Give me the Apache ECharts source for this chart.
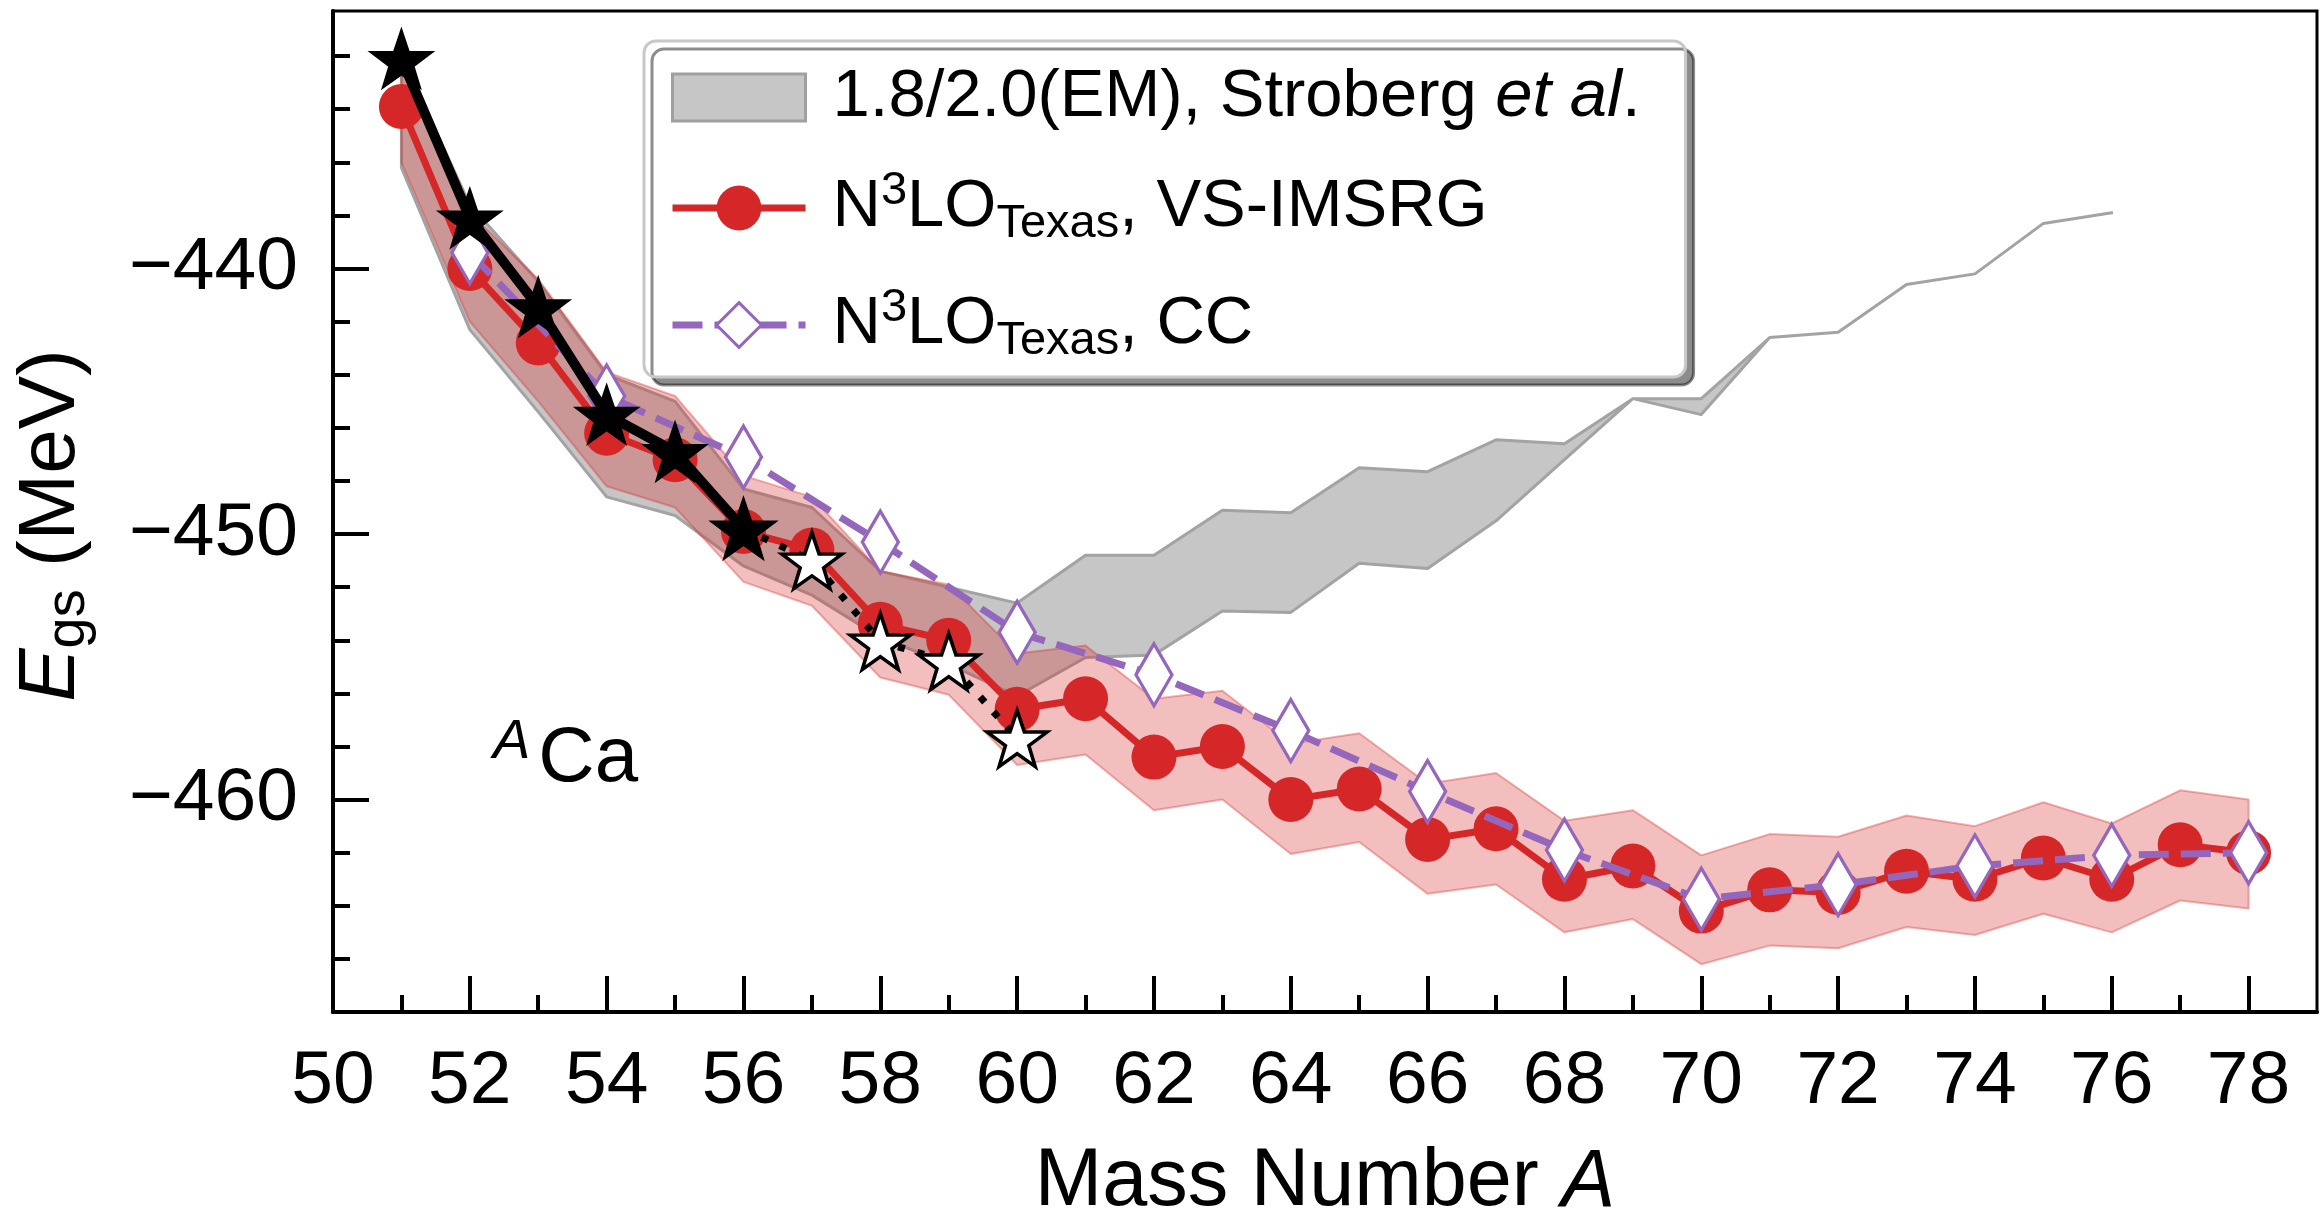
<!DOCTYPE html>
<html>
<head>
<meta charset="utf-8">
<script src="https://cdn.jsdelivr.net/npm/echarts@6/dist/echarts.min.js"></script>
<style>
  html, body { margin: 0; padding: 0; background: #ffffff; }
  #chart { width: 2320px; height: 1215px; }
</style>
</head>
<body>
<div id="chart"></div>
<script>
// ---------------- data ----------------
// N3LO_Texas, VS-IMSRG (red circles) with uncertainty band
const A_VS = [51, 52, 53, 54, 55, 56, 57, 58, 59, 60, 61, 62, 63, 64, 65, 66, 67, 68, 69, 70, 71, 72, 73, 74, 75, 76, 77, 78];
const E_VS = [-433.9, -440.0, -442.8, -446.2, -447.2, -449.9, -450.6, -453.4, -454.0, -456.6, -456.2, -458.4, -458.0, -460.0,
              -459.6, -461.5, -461.1, -463.0, -462.5, -464.2, -463.4, -463.5, -462.7, -463.0, -462.2, -463.0, -461.7, -462.0];
const VS_UPPER = [-431.8, -437.9, -440.4, -443.9, -444.8, -447.8, -448.6, -451.4, -451.9, -454.5, -454.2, -456.2, -455.9, -457.9,
                  -457.5, -459.4, -459.0, -460.8, -460.4, -462.1, -461.3, -461.4, -460.6, -461.0, -460.1, -460.9, -459.65, -460.0];
const VS_LOWER = [-436.0, -442.0, -445.0, -448.2, -449.0, -451.8, -452.7, -455.4, -456.05, -458.7, -458.3, -460.4, -460.0, -462.05,
                  -461.6, -463.55, -463.2, -465.0, -464.5, -466.2, -465.5, -465.6, -464.8, -465.1, -464.3, -465.0, -463.8, -464.1];

// 1.8/2.0(EM), Stroberg et al. (grey band)
const A_EM = [51, 52, 53, 54, 55, 56, 57, 58, 59, 60, 61, 62, 63, 64, 65, 66, 67, 68, 69, 70, 71, 72, 73, 74, 75, 76];
const EM_UPPER = [-432.0, -437.6, -440.5, -444.0, -445.0, -448.3, -449.0, -451.4, -452.0, -452.6, -450.8, -450.8, -449.1,
                  -449.2, -447.5, -447.65, -446.45, -446.6, -444.9, -444.9, -442.6, -442.4, -440.6, -440.2, -438.3, -437.9];
const EM_LOWER = [-436.2, -442.3, -445.4, -448.6, -449.3, -451.2, -452.3, -453.9, -454.9, -456.1, -454.65, -454.55, -452.9,
                  -452.95, -451.1, -451.3, -449.5, -447.2, -444.9, -445.5, -442.6, -442.4, -440.6, -440.2, -438.3, -437.9];

// N3LO_Texas, CC (open purple diamonds)
const A_CC = [52, 54, 56, 58, 60, 62, 64, 66, 68, 70, 72, 74, 76, 78];
const E_CC = [-439.4, -444.8, -447.1, -450.3, -453.7, -455.3, -457.4, -459.7, -461.9, -463.75, -463.2, -462.5, -462.1, -462.0];

// Experiment (filled stars) and extrapolations (open stars)
const A_EXP = [51, 52, 53, 54, 55, 56];
const E_EXP = [-432.1, -438.1, -441.45, -445.5, -446.9, -449.8];
const A_EXTRAP = [56, 57, 58, 59, 60];
const E_EXTRAP = [-449.8, -451.0, -454.05, -454.8, -457.7];

// axis ticks
const X_MAJOR = [50, 52, 54, 56, 58, 60, 62, 64, 66, 68, 70, 72, 74, 76, 78];
const X_MINOR = [51, 53, 55, 57, 59, 61, 63, 65, 67, 69, 71, 73, 75, 77];
const Y_MAJOR = [-460, -450, -440];
const Y_MINOR = [-466, -464, -462, -458, -456, -454, -452, -448, -446, -444, -442, -438, -436, -434, -432];

const NAME_EM = '1.8/2.0(EM), Stroberg et al.';
const NAME_VS = 'N3LO_Texas, VS-IMSRG';
const NAME_CC = 'N3LO_Texas, CC';

// ---------------- chart ----------------
const FONT = '"Liberation Sans", Arial, Helvetica, sans-serif';
const STAR = 'path://M50,0 L61.8,35.1 L98.9,35.1 L69.1,57.4 L79.4,91.5 L50,70.5 L20.6,91.5 L30.9,57.4 L1.1,35.1 L38.2,35.1 Z';
const THIN_DIAMOND = 'path://M16,0 L32,28 L16,56 L0,28 Z';
const RECT_ICON = 'path://M0,0 L133,0 L133,47 L0,47 Z';

const zip = (xs, ys) => xs.map((x, i) => [x, ys[i]]);
const minus = v => (v < 0 ? '\u2212' + Math.abs(v) : String(v));

// A band drawn as one polygon (upper edge, then lower edge reversed), placed through the axis scales.
function bandSeries(name, xs, up, lo, fill, stroke, lineWidth, z) {
  return {
    name: name, type: 'custom', coordinateSystem: 'cartesian2d', xAxisIndex: 0, yAxisIndex: 0,
    z: z, silent: true, clip: true,
    itemStyle: { color: fill },
    data: xs.map((x, i) => [x, up[i], lo[i]]),
    encode: { x: 0, y: [1, 2] },
    renderItem: function (params, api) {
      if (params.dataIndex !== 0) return null;
      const pts = [];
      for (let i = 0; i < xs.length; i++) pts.push(api.coord([xs[i], up[i]]));
      for (let i = xs.length - 1; i >= 0; i--) pts.push(api.coord([xs[i], lo[i]]));
      return {
        type: 'polygon',
        shape: { points: pts },
        style: { fill: fill, stroke: stroke, lineWidth: lineWidth, lineJoin: 'round' }
      };
    }
  };
}

const chart = echarts.init(document.getElementById('chart'), null, { renderer: 'canvas' });

const legendRich = {
  t:   { fontSize: 67, lineHeight: 80, fontFamily: FONT, color: '#000' },
  it:  { fontSize: 67, lineHeight: 80, fontFamily: FONT, color: '#000', fontStyle: 'italic' },
  sup: { fontSize: 47, lineHeight: 46, fontFamily: FONT, color: '#000', verticalAlign: 'top' },
  sub: { fontSize: 47, lineHeight: 46, fontFamily: FONT, color: '#000', verticalAlign: 'bottom' },
  sp:  { width: 22, lineHeight: 80 }
};

const option = {
  animation: false,
  backgroundColor: '#ffffff',
  grid: {
    left: 333, right: 3, top: 11, bottom: 203,
    containLabel: false, outerBoundsMode: 'none',
    show: true, borderColor: '#000', borderWidth: 3, backgroundColor: 'transparent'
  },
  xAxis: [
    {
      type: 'value', min: 50, max: 79, position: 'bottom',
      name: '{t|Mass Number }{i|A}', nameLocation: 'middle', nameGap: 126,
      nameTextStyle: {
        rich: {
          t: { fontSize: 81, lineHeight: 90, fontFamily: FONT, color: '#000' },
          i: { fontSize: 81, lineHeight: 90, fontFamily: FONT, color: '#000', fontStyle: 'italic' }
        }
      },
      axisLine: { show: true, lineStyle: { color: '#000', width: 4 } },
      axisTick: { show: true, inside: true, length: 36, lineStyle: { color: '#000', width: 4 }, customValues: X_MAJOR },
      axisLabel: { show: true, customValues: X_MAJOR, fontSize: 75, fontFamily: FONT, color: '#000', margin: 33 },
      splitLine: { show: false }
    },
    {
      type: 'value', min: 50, max: 79, position: 'bottom',
      axisLine: { show: false },
      axisTick: { show: true, inside: true, length: 17, lineStyle: { color: '#000', width: 4 }, customValues: X_MINOR },
      axisLabel: { show: false },
      splitLine: { show: false }
    }
  ],
  yAxis: [
    {
      type: 'value', min: -468, max: -430.3, position: 'left',
      name: '{e|E}{s|gs}{t| (MeV)}', nameLocation: 'middle', nameGap: 236, nameRotate: 90,
      nameTextStyle: {
        padding: [0, 28, 0, 0],
        rich: {
          e: { fontSize: 80, lineHeight: 90, fontFamily: FONT, color: '#000', fontStyle: 'italic' },
          s: { fontSize: 56, lineHeight: 56, fontFamily: FONT, color: '#000', verticalAlign: 'bottom' },
          t: { fontSize: 80, lineHeight: 90, fontFamily: FONT, color: '#000' }
        }
      },
      axisLine: { show: true, lineStyle: { color: '#000', width: 4 } },
      axisTick: { show: true, inside: true, length: 36, lineStyle: { color: '#000', width: 4 }, customValues: Y_MAJOR },
      axisLabel: { show: true, customValues: Y_MAJOR, fontSize: 75, fontFamily: FONT, color: '#000', margin: 35, formatter: minus },
      splitLine: { show: false }
    },
    {
      type: 'value', min: -468, max: -430.3, position: 'left',
      axisLine: { show: false },
      axisTick: { show: true, inside: true, length: 17, lineStyle: { color: '#000', width: 4 }, customValues: Y_MINOR },
      axisLabel: { show: false },
      splitLine: { show: false }
    }
  ],
  legend: {
    left: 644, top: 41, orient: 'vertical',
    selectedMode: false,
    itemWidth: 133, itemHeight: 56, itemGap: 37,
    padding: [23, 45, 12, 25],
    backgroundColor: '#ffffff',
    borderColor: '#c8c8c8', borderWidth: 3, borderRadius: 12,
    shadowColor: 'rgba(0,0,0,0.45)', shadowBlur: 0, shadowOffsetX: 8, shadowOffsetY: 8,
    textStyle: { fontSize: 67, fontFamily: FONT, color: '#000', rich: legendRich },
    formatter: function (name) {
      if (name === NAME_EM) return '{sp|}{t|1.8/2.0(EM), Stroberg }{it|et al}{t|.}';
      if (name === NAME_VS) return '{sp|}{t|N}{sup|3}{t|LO}{sub|Texas}{t|, VS-IMSRG}';
      if (name === NAME_CC) return '{sp|}{t|N}{sup|3}{t|LO}{sub|Texas}{t|, CC}';
      return name;
    },
    data: [
      { name: NAME_EM, icon: RECT_ICON, itemStyle: { color: '#c6c6c6', borderColor: '#a0a0a0', borderWidth: 3 } },
      { name: NAME_VS, itemStyle: { color: '#d62728' }, lineStyle: { color: '#d62728', width: 7, type: 'solid' } },
      { name: NAME_CC, itemStyle: { color: '#ffffff', borderColor: '#9467bd', borderWidth: 3 }, lineStyle: { color: '#9467bd', width: 7, type: [30, 12] } }
    ]
  },
  graphic: [
    {
      type: 'text', left: 493, top: 714, silent: true,
      style: {
        text: '{a|A}{c|Ca}',
        rich: {
          a: { fontSize: 56, lineHeight: 40, fontFamily: FONT, fill: '#000', fontStyle: 'italic', verticalAlign: 'top', padding: [0, 8, 0, 0] },
          c: { fontSize: 78, lineHeight: 90, fontFamily: FONT, fill: '#000' }
        }
      }
    }
  ],
  series: [
    bandSeries(NAME_EM, A_EM, EM_UPPER, EM_LOWER, '#c6c6c6', '#a3a3a3', 3, 1),
    bandSeries('vsBand', A_VS, VS_UPPER, VS_LOWER, 'rgba(214,39,40,0.3)', 'rgba(214,39,40,0.35)', 2, 2),
    {
      name: NAME_VS, type: 'line', xAxisIndex: 0, yAxisIndex: 0, z: 3,
      data: zip(A_VS, E_VS),
      symbol: 'circle', symbolSize: 45, silent: true,
      itemStyle: { color: '#d62728' },
      lineStyle: { color: '#d62728', width: 7 }
    },
    {
      name: NAME_CC, type: 'line', xAxisIndex: 0, yAxisIndex: 0, z: 4,
      data: zip(A_CC, E_CC),
      symbol: THIN_DIAMOND, symbolSize: [36, 62], silent: true,
      itemStyle: { color: '#ffffff', borderColor: '#9467bd', borderWidth: 3.5 },
      lineStyle: { color: '#9467bd', width: 7, type: [30, 12] }
    },
    {
      name: 'extrapolated', type: 'line', xAxisIndex: 0, yAxisIndex: 0, z: 5,
      data: zip(A_EXTRAP, E_EXTRAP),
      symbol: STAR, symbolSize: [60, 56], silent: true,
      itemStyle: { color: '#ffffff', borderColor: '#000', borderWidth: 3.5 },
      lineStyle: { color: '#000', width: 7, type: [7, 13] }
    },
    {
      name: 'experiment', type: 'line', xAxisIndex: 0, yAxisIndex: 0, z: 6,
      data: zip(A_EXP, E_EXP),
      symbol: STAR, symbolSize: [62, 58], silent: true,
      itemStyle: { color: '#000', borderColor: '#000', borderWidth: 2 },
      lineStyle: { color: '#000', width: 10 }
    }
  ]
};

chart.setOption(option);
</script>
</body>
</html>
